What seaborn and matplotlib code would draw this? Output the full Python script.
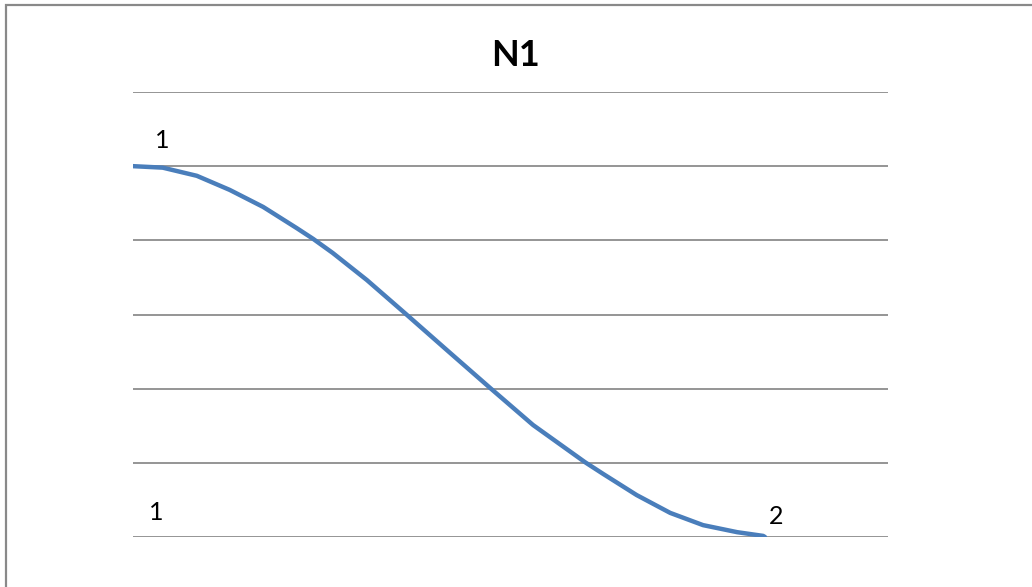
import matplotlib
matplotlib.use("Agg")
import matplotlib.pyplot as plt
from matplotlib.patches import Rectangle
import seaborn as sns
import pandas as pd

# Curve of series N1 (x position along the category span, value)
curve_x = [0.000, 0.047, 0.101, 0.153, 0.206, 0.259, 0.285, 0.316, 0.370, 0.432,
           0.498, 0.565, 0.633, 0.715, 0.744, 0.797, 0.850, 0.902, 0.956, 0.997,
           1.000]
curve_y = [1.000, 0.996, 0.974, 0.936, 0.890, 0.833, 0.804, 0.766, 0.693, 0.601,
           0.502, 0.402, 0.302, 0.202, 0.170, 0.113, 0.065, 0.032, 0.013, 0.003,
           0.000]

# Point labels
label_text = ["1", "1", "2"]
label_x = [0.0, 0.0, 1.0]
label_y = [1.0, 0.0, 0.0]

title = "N1"
grid_values = [0.0, 0.2, 0.4, 0.6, 0.8, 1.0, 1.2]

sns.set_style("white")
plt.rcParams["font.family"] = ["Lato", "DejaVu Sans"]

fig = plt.figure(figsize=(10.32, 5.87), dpi=100)
ax = fig.add_axes([133 / 1032, 50 / 587, 755 / 1032, 445 / 587])

df = pd.DataFrame({"x": curve_x, "y": curve_y})
sns.lineplot(data=df, x="x", y="y", sort=False, ax=ax, color="#4A7EBB",
             linewidth=3.2, solid_capstyle="round", solid_joinstyle="round",
             zorder=3)

ax.set_xlim(0, 755 / 632)
ax.set_ylim(grid_values[0], grid_values[-1])
ax.set_yticks(grid_values)
ax.set_xticks([])
ax.yaxis.grid(True, color="#8C8C8C", linewidth=1.3)
ax.set_axisbelow(True)
ax.tick_params(left=False, labelleft=False, bottom=False, labelbottom=False)
ax.set_xlabel("")
ax.set_ylabel("")
for s in ax.spines.values():
    s.set_visible(False)

offsets = [(29, 26), (23, 25), (11, 20)]
for t, x, y, (dx, dy) in zip(label_text, label_x, label_y, offsets):
    ax.annotate(t, (x, y), xytext=(dx * 0.72, dy * 0.72), textcoords="offset points",
                ha="center", va="center", fontsize=18, color="black",
                annotation_clip=False)

fig.text(516 / 1032, 1 - 55 / 587, title, ha="center", va="center",
         fontsize=26, fontweight="bold", color="black")

# Chart area border (top and left edges visible)
fig.add_artist(Rectangle((5.5 / 1032, -0.1), 1.2, 1 - 4.5 / 587 + 0.1,
                         transform=fig.transFigure, fill=False,
                         edgecolor="#898989", linewidth=1.6))

fig.savefig("out.png", dpi=100, facecolor="white")
